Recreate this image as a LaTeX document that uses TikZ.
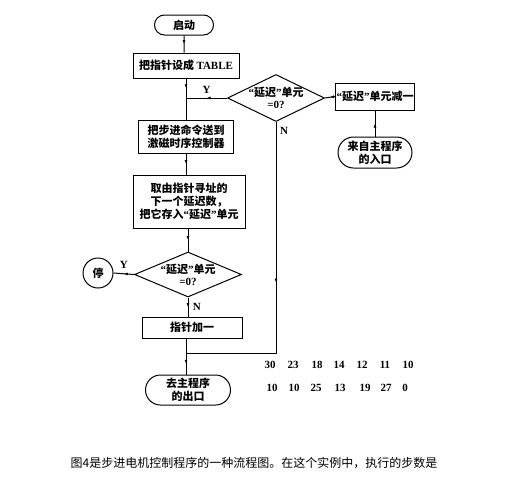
\documentclass[tikz,border=0pt]{standalone}
\usepackage{fontspec}
\setmainfont{Liberation Serif}
\newfontfamily\cjk{Noto Sans CJK SC}
\usetikzlibrary{arrows.meta,positioning,calc,shapes,decorations.markings}
\newcommand{\oq}{{\rmfamily\bfseries “}}
\newcommand{\cq}{{\rmfamily\bfseries ”}}

\begin{document}
\begin{tikzpicture}[x=1pt, y=-1pt, line width=1pt,
    every node/.style={font=\cjk\bfseries\fontsize{11}{13}\selectfont},
    proc/.style={draw, rectangle, align=center, inner sep=1pt},
    term/.style={draw, rounded rectangle, align=center, inner sep=1pt},
    decn/.style={draw, diamond, inner sep=0pt},
    lbl/.style={font=\bfseries\fontsize{11}{13}\selectfont},
    num/.style={font=\bfseries\fontsize{11}{13}\selectfont},
    midarrow/.style={postaction={decorate}, decoration={markings,
        mark=at position 0.5 with {\arrow{Latex[length=4pt,width=3pt]}}}}]
    \useasboundingbox (0,0) rectangle (509,485);

    % Main column
    \node[term, minimum width=61pt, minimum height=20pt] (start) at (184,25) {启动};
    \node[proc, minimum width=106pt, minimum height=25pt] (table) at (186,65.5) {把指针设成 {\rmfamily\bfseries TABLE}};
    \node[proc, minimum width=95pt, minimum height=33pt] (send) at (186,136.5) {把步进命令送到\\激磁时序控制器};
    \node[proc, minimum width=112pt, minimum height=53pt] (fetch) at (189,201.5) {取由指针寻址的\\下一个延迟数，\\把它存入\oq 延迟\cq 单元};
    \node[decn, minimum width=107pt, minimum height=45pt] (chk2) at (188,274.5) {};
    \node[align=center] (chk2t) at (chk2) {\oq 延迟\cq 单元\\[-1pt]{\rmfamily\bfseries =0?}};
    \node[draw, circle, minimum size=30pt, inner sep=0pt] (stop) at (98,273) {停};
    \node[proc, minimum width=100pt, minimum height=21pt] (inc) at (192,327.5) {指针加一};
    \node[term, minimum width=87pt, minimum height=30pt] (exit) at (188,390) {去主程序\\的出口};

    % Entry column
    \node[decn, minimum width=97pt, minimum height=47pt] (chk1) at (276,98) {};
    \node[align=center] (chk1t) at (chk1) {\oq 延迟\cq 单元\\[-1pt]{\rmfamily\bfseries =0?}};
    \node[proc, minimum width=76pt, minimum height=27pt] (dec) at (375,96.5) {\oq 延迟\cq 单元减一};
    \node[term, minimum width=76pt, minimum height=31pt] (entry) at (375,152.5) {来自主程序\\的入口};

    % Joins
    \coordinate (j1) at (186,98);
    \coordinate (j2) at (186,353);

    % Connectors
    \draw[midarrow] (start) -- (start |- table.north);
    \draw[midarrow] (table.south -| j1) -- (j1);
    \draw (j1) -- (send.north -| j1);
    \draw[midarrow] (send.south -| j1) -- (fetch.north -| j1);
    \draw[midarrow] (fetch.south -| chk2) -- (chk2.north);
    \draw[midarrow] (chk2.west) -- (stop.east) node[lbl, midway, above=1pt] {Y};
    \draw[midarrow] (chk2.south) -- (inc.north -| chk2) node[lbl, pos=0.5, right=1pt] {N};
    \draw (inc.south -| j2) -- (j2);
    \draw[midarrow] (j2) -- (exit.north -| j2);
    \draw[midarrow] (chk1.west) -- (j1) node[lbl, midway, above=1pt] {Y};
    \draw[midarrow] (chk1.south) -- (chk1.south |- j2) -- (j2);
    \node[lbl] (nlab) at (284,131) {N};
    \draw[midarrow] (entry.north) -- (dec.south);
    \draw[midarrow] (dec.west) -- (chk1.east);

    % Step counts
    \foreach \x/\v [count=\i] in {270/30,293/23,317/18,339/14,362/12,385/11,408/10}
        \node[num] (ra\i) at (\x,365) {\v};
    \foreach \x/\v [count=\i] in {272/10,294/10,316/25,340/13,365/19,386/27,405/0}
        \node[num] (rb\i) at (\x,388) {\v};

    % Caption
    \node[font=\cjk\fontsize{12}{14}\selectfont] (cap) at (254,463) {图4是步进电机控制程序的一种流程图。在这个实例中，执行的步数是};
\end{tikzpicture}
\end{document}
